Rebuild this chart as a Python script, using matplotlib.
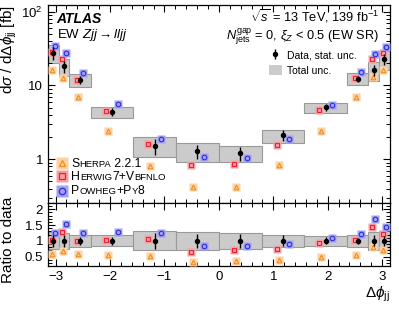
import numpy as np
import matplotlib
matplotlib.use("Agg")
import matplotlib.pyplot as plt
from matplotlib.ticker import MultipleLocator, LogLocator, FuncFormatter, NullFormatter
from matplotlib.patches import Patch

plt.rcParams['font.family'] = ['Liberation Sans', 'DejaVu Sans']
plt.rcParams['mathtext.fontset'] = 'custom'
plt.rcParams['mathtext.rm'] = 'Liberation Sans'
plt.rcParams['mathtext.it'] = 'Liberation Sans:italic'
plt.rcParams['mathtext.bf'] = 'Liberation Sans:bold'

# bin edges in units of pi/16
edges_16 = [-16, -15, -14, -12, -8, -4, 0, 4, 8, 12, 14, 15, 16]

# measured cross section [fb] and relative uncertainties
data_xs = [27.5, 18.1, 11.9, 4.36, 1.52, 1.28, 1.21, 2.10, 5.03, 12.3, 16.0, 22.8]
stat_rel = [0.20, 0.19, 0.12, 0.13, 0.25, 0.22, 0.22, 0.17, 0.11, 0.10, 0.17, 0.16]
tot_rel = [0.27, 0.26, 0.20, 0.17, 0.30, 0.28, 0.25, 0.20, 0.16, 0.18, 0.28, 0.30]

# prediction / data
ratio_sherpa = [0.58, 0.69, 0.58, 0.56, 0.53, 0.33, 0.35, 0.40, 0.48, 0.56, 0.80, 0.72]
ratio_herwig = [1.03, 1.27, 1.00, 1.04, 1.06, 0.66, 0.72, 0.75, 0.92, 1.03, 1.43, 1.22]
ratio_powheg = [1.25, 1.54, 1.24, 1.28, 1.24, 0.83, 0.85, 0.90, 1.08, 1.23, 1.69, 1.45]

edges = np.pi * np.array(edges_16) / 16.0
centers = 0.5 * (edges[1:] + edges[:-1])
widths = edges[1:] - edges[:-1]
data = np.array(data_xs)
stat = np.array(stat_rel)
tot = np.array(tot_rel)

models = [
    # ratio, marker, colour, background, x offset (fraction of bin width)
    (np.array(ratio_sherpa), '^', '#f08c1e', '#fdd2a0', -0.10),
    (np.array(ratio_herwig), 's', '#e4262c', '#f5a0a6', -0.15),
    (np.array(ratio_powheg), 'o', '#2b2bd9', '#a2a2f5', 0.15),
]

fig = plt.figure(figsize=(3.99, 3.09), dpi=100)
ax = fig.add_axes([0.120, 0.343, 0.857, 0.641])
rax = fig.add_axes([0.120, 0.139, 0.857, 0.204], sharex=ax)

box_kw = dict(color='#cbcbcb', edgecolor='#999999', linewidth=0.8, zorder=1)

# main panel
ax.bar(centers, 2 * tot * data, bottom=data * (1 - tot), width=widths, **box_kw)
for ratio, mk, col, bg, off in models:
    xm = centers + off * widths
    ax.plot(xm, ratio * data, 's', ms=5.6, mfc=bg, mec='none', zorder=3)
    ax.plot(xm, ratio * data, mk, ms=3.3, mfc='none', mec=col, mew=0.8, zorder=4)
h_data = ax.errorbar(centers, data, yerr=stat * data, fmt='o', color='black',
                     ms=2.9, elinewidth=1.0, capsize=0, zorder=5)

ax.set_yscale('log')
ax.set_ylim(0.255, 123)
ax.set_xlim(-np.pi, np.pi)

def log_fmt(v, pos):
    if abs(v - 1) < 1e-9:
        return '1'
    if abs(v - 10) < 1e-9:
        return '10'
    if abs(v - 100) < 1e-9:
        return r'$10^{2}$'
    return ''

ax.yaxis.set_major_locator(LogLocator(base=10, numticks=10))
ax.yaxis.set_minor_locator(LogLocator(base=10, subs=np.arange(2, 10), numticks=20))
ax.yaxis.set_major_formatter(FuncFormatter(log_fmt))
ax.yaxis.set_minor_formatter(NullFormatter())
ax.set_ylabel(r'd$\sigma$ / d$\Delta\phi_{\rm jj}$ [fb]', fontsize=11, loc='top', labelpad=2)
plt.setp(ax.get_xticklabels(), visible=False)

# ratio panel
rax.bar(centers, 2 * tot, bottom=1 - tot, width=widths, **box_kw)
for ratio, mk, col, bg, off in models:
    xm = centers + off * widths
    rax.plot(xm, ratio, 's', ms=5.6, mfc=bg, mec='none', zorder=3)
    rax.plot(xm, ratio, mk, ms=3.3, mfc='none', mec=col, mew=0.8, zorder=4)
rax.errorbar(centers, np.ones_like(data), yerr=stat, fmt='o', color='black',
             ms=2.9, elinewidth=1.0, capsize=0, zorder=5)
rax.set_ylim(0.2, 2.2)
rax.yaxis.set_major_locator(MultipleLocator(0.5))
rax.yaxis.set_minor_locator(MultipleLocator(0.1))
rax.yaxis.set_major_formatter(FuncFormatter(lambda v, p: '%g' % v))
rax.xaxis.set_major_locator(MultipleLocator(1))
rax.xaxis.set_minor_locator(MultipleLocator(0.2))
rax.set_ylabel('Ratio to data', fontsize=11, labelpad=2)
rax.yaxis.set_label_coords(-0.095, 0.42)
rax.set_xlabel(r'$\Delta\phi_{\rm jj}$', fontsize=11, loc='right', labelpad=1)

for a in (ax, rax):
    a.tick_params(which='both', direction='in', top=True, right=True, labelsize=9.5)
    a.tick_params(which='major', length=5, width=0.8)
    a.tick_params(which='minor', length=2.6, width=0.7)
    for s in a.spines.values():
        s.set_linewidth(0.9)

# labels
ax.text(0.026, 0.929, 'ATLAS', transform=ax.transAxes, fontsize=10,
        fontweight='bold', fontstyle='italic', va='center')
ax.text(0.026, 0.848, r'EW $Zjj \rightarrow lljj$', transform=ax.transAxes,
        fontsize=9.5, va='center')
ax.text(0.968, 0.945, r'$\sqrt{s}$ = 13 TeV, 139 fb$^{-1}$', transform=ax.transAxes,
        fontsize=9.2, va='center', ha='right')
ax.text(0.968, 0.842, r'$N_{\rm jets}^{\rm gap}$ = 0, $\xi_{Z}$ < 0.5 (EW SR)',
        transform=ax.transAxes, fontsize=9.2, va='center', ha='right')

h_tot = Patch(facecolor='#cbcbcb', edgecolor='none')
ax.legend([h_data, h_tot], ['Data, stat. unc.', 'Total unc.'], loc='upper left',
          bbox_to_anchor=(0.635, 0.795), frameon=False, fontsize=7.5,
          handlelength=1.2, handleheight=1.1, handletextpad=0.5,
          labelspacing=0.5, borderaxespad=0)

# model legend with small caps labels, pieces placed one after another
leg_y = [0.200, 0.134, 0.062]
leg_txt = [
    [('S', 8.8), ('HERPA', 6.8), (' 2.2.1', 8.8)],
    [('H', 8.8), ('ERWIG', 6.8), ('7+V', 8.8), ('BFNLO', 6.8)],
    [('P', 8.8), ('OWHEG', 6.8), ('+P', 8.8), ('Y', 6.8), ('8', 8.8)],
]
renderer = fig.canvas.get_renderer()
ax_w = ax.get_window_extent(renderer).width
for (ratio, mk, col, bg, off), yy, parts in zip(models, leg_y, leg_txt):
    ax.plot([0.040], [yy], 's', ms=8.5, mfc=bg, mec='none', transform=ax.transAxes,
            clip_on=False, zorder=6)
    ax.plot([0.040], [yy], mk, ms=4.6, mfc='none', mec=col, mew=0.9,
            transform=ax.transAxes, clip_on=False, zorder=7)
    xx = 0.068
    for txt, fs in parts:
        t = ax.text(xx, yy - 0.017, txt, transform=ax.transAxes, fontsize=fs,
                    va='baseline', ha='left')
        xx += t.get_window_extent(renderer).width / ax_w

fig.savefig('out.png', dpi=100)
